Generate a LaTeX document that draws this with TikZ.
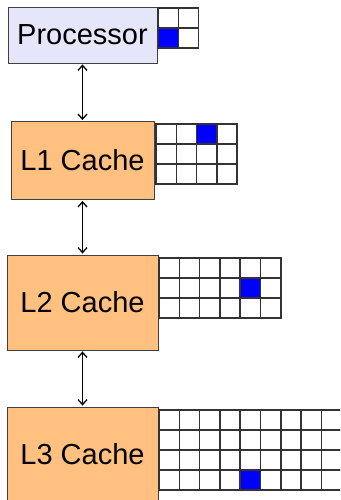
\documentclass[tikz,border=0pt]{standalone}
\usepackage{fontspec}
\setmainfont{Liberation Sans}
\usetikzlibrary{arrows.meta,positioning}
\definecolor{cpufill}{RGB}{230,230,250}
\definecolor{cachefill}{RGB}{255,192,128}
\definecolor{hitblue}{RGB}{0,0,255}

\tikzset{
  unit/.style={draw=black!75,line width=.9pt,inner sep=0pt},
  cpu/.style={unit,fill=cpufill,minimum width=149pt,minimum height=56pt},
  cache/.style={unit,fill=cachefill,minimum width=151pt,minimum height=95pt},
  cell/.style={draw=black!80,line width=1.6pt},
  link/.style={<->,line width=1.3pt,shorten <=1pt,shorten >=1pt},
}
\def\cellw{20.3}
\def\cellh{20}
% #1 origin, #2 columns, #3 rows, #4/#5 column/row of the filled line
\newcommand{\cachegrid}[5]{%
  \begin{scope}[shift={#1}]
    \fill[hitblue] ({(#4-1)*\cellw},{(#5-1)*\cellh}) rectangle ++(\cellw,\cellh);
    \foreach \c in {1,...,#2}
      \foreach \r in {1,...,#3}
        \draw[cell] ({(\c-1)*\cellw},{(\r-1)*\cellh}) rectangle ++(\cellw,\cellh);
  \end{scope}}

\begin{document}
\begin{tikzpicture}[x=1pt,y=-1pt,font=\fontsize{29}{34}\selectfont,>={Straight Barb[length=5pt,width=9pt]}]
    \useasboundingbox (0,0) rectangle (340,500);
    \clip (0,0) rectangle (340,500);
    \node[cpu] (proc) at (82.5,35) {Processor};
    \node[cache,minimum width=143pt,minimum height=78pt] (l1) at (82.5,160.5) {L1 Cache};
    \node[cache] (l2) at (82.5,302.5) {L2 Cache};
    \node[cache] (l3) at (82.5,454.5) {L3 Cache};
    \cachegrid{(158,8)}{2}{2}{1}{2}
    \cachegrid{(156,124)}{4}{3}{3}{1}
    \cachegrid{(159,258)}{6}{3}{5}{2}
    \cachegrid{(159,410)}{10}{4}{5}{4}
    \draw[link] (proc) -- (l1);
    \draw[link] (l1) -- (l2);
    \draw[link] (l2) -- (l3);
  \end{tikzpicture}
\end{document}
